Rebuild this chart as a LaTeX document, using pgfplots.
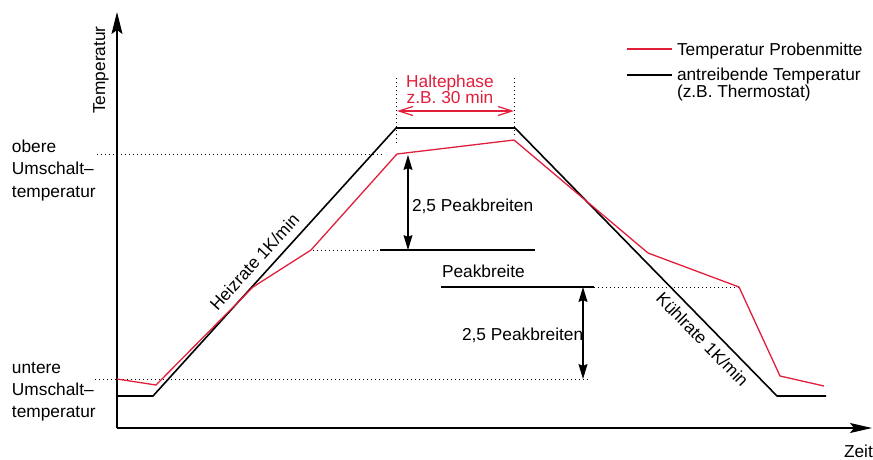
\documentclass[border=0pt]{standalone}
\usepackage{pgfplots}
\pgfplotsset{compat=1.18}
\usepackage{fontspec}
\setmainfont{Liberation Sans}
\usetikzlibrary{arrows.meta}
\definecolor{myred}{RGB}{225,30,60}
\newcommand\fs{\fontsize{17.3}{20}\selectfont}
\begin{document}
\begin{tikzpicture}
\tikzset{every node/.style={font=\fs, inner sep=0pt, outer sep=0pt},
  dots/.style={line width=1pt, dash pattern=on 1pt off 3pt, black}}
\begin{axis}[
  x=1pt, y=1pt, xmin=0, xmax=873, ymin=0, ymax=459, y dir=reverse,
  hide axis, clip=false, enlargelimits=false,
  ]
\coordinate (BL) at (axis cs:0,459);
\coordinate (TR) at (axis cs:873,0);
% axes
\draw[line width=1.2pt, -{Stealth[length=22pt,width=11pt,inset=4pt]}] (axis cs:117,428) -- (axis cs:117,12);
\draw[line width=1.2pt, -{Stealth[length=22pt,width=10pt,inset=4pt]}] (axis cs:117,428) -- (axis cs:872,428);
% dotted guide lines
\draw[dots] (axis cs:97,154) -- (axis cs:382,154);
\draw[dots] (axis cs:95,379) -- (axis cs:590,379);
\draw[dots] (axis cs:313,250) -- (axis cs:380,250);
\draw[dots] (axis cs:594,287) -- (axis cs:739,287);
\draw[dots] (axis cs:396,78) -- (axis cs:396,145);
\draw[dots] (axis cs:514,78) -- (axis cs:514,138);
% solid reference lines
\draw[line width=1.2pt] (axis cs:380,250) -- (axis cs:535,250);
\draw[line width=1.2pt] (axis cs:441,287) -- (axis cs:594,287);
% curves
\addplot[black, line width=1.6pt, line join=round] coordinates {(117,396)(153,396)(396,128)(515,128)(777,396)(826,396)};
\addplot[myred, line width=1.3pt, line join=round] coordinates {(117,379)(156,385)(253,287)(311,250)(397,154)(514,140)(648,253)(739,287)(780,376)(824,386)};
% arrows
\draw[line width=1.2pt, {Stealth[length=15pt,width=9pt,inset=2pt]}-{Stealth[length=15pt,width=9pt,inset=2pt]}] (axis cs:408,155) -- (axis cs:408,250);
\draw[line width=1.2pt, {Stealth[length=15pt,width=9pt,inset=2pt]}-{Stealth[length=15pt,width=9pt,inset=2pt]}] (axis cs:583,287) -- (axis cs:583,379);
\draw[myred, line width=1.2pt, {Straight Barb[length=14pt,width=9pt]}-{Straight Barb[length=14pt,width=9pt]}] (axis cs:397,111) -- (axis cs:514,111);
% texts
\node[anchor=base, rotate=90] at (axis cs:105,70) {Temperatur};
\node[anchor=base west] at (axis cs:12,152) {obere};
\node[anchor=base west] at (axis cs:12,174.5) {Umschalt--};
\node[anchor=base west] at (axis cs:12,197) {temperatur};
\node[anchor=base west] at (axis cs:12,373) {untere};
\node[anchor=base west] at (axis cs:12,395) {Umschalt--};
\node[anchor=base west] at (axis cs:12,417) {temperatur};
\node[anchor=base, text=myred] at (axis cs:450,87) {Haltephase};
\node[anchor=base, text=myred] at (axis cs:450,103) {z.B. 30 min};
\node[anchor=base west] at (axis cs:412,211) {2,5 Peakbreiten};
\node[anchor=base west] at (axis cs:442,277) {Peakbreite};
\node[anchor=base west] at (axis cs:462,340) {2,5 Peakbreiten};
\node[anchor=base, rotate=47.7] at (axis cs:259,266) {Heizrate 1K/min};
\node[anchor=north, rotate=-45.65] at (axis cs:707,335) {Kühlrate 1K/min};
\node[anchor=base west] at (axis cs:844,457) {Zeit};
% legend
\draw[myred, line width=1.3pt] (axis cs:627,49) -- (axis cs:672,49);
\draw[black, line width=1.3pt] (axis cs:627,75) -- (axis cs:672,75);
\node[anchor=base west] at (axis cs:677,55) {Temperatur Probenmitte};
\node[anchor=base west] at (axis cs:677,80) {antreibende Temperatur};
\node[anchor=base west] at (axis cs:677,97) {(z.B. Thermostat)};
\end{axis}
\pgfresetboundingbox
\useasboundingbox (BL) rectangle (TR);
\end{tikzpicture}
\end{document}
